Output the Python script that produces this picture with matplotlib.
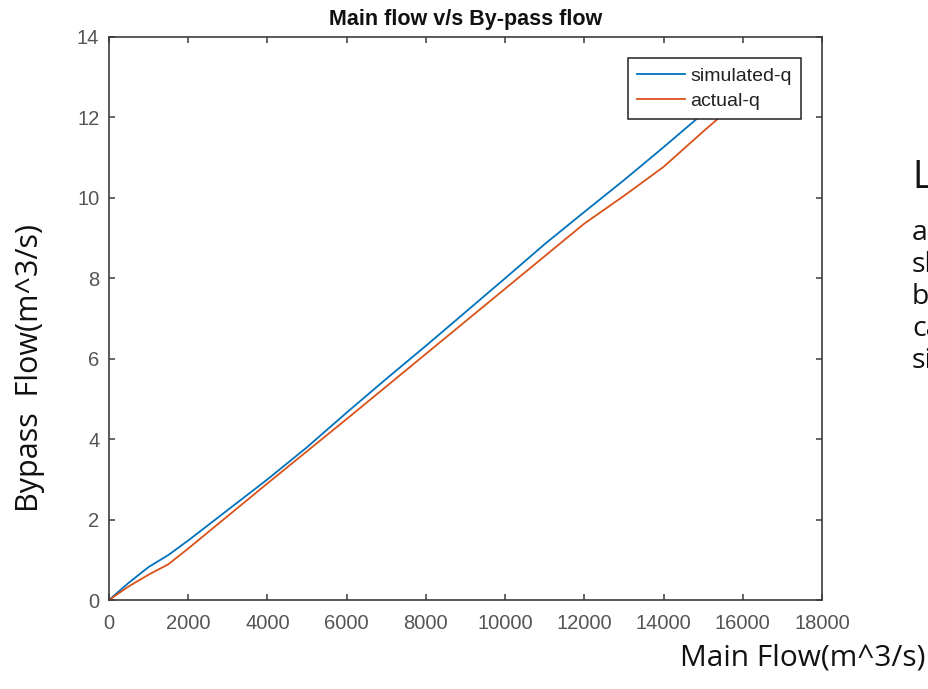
import matplotlib
matplotlib.use("Agg")
import matplotlib.pyplot as plt

# ---- data ----
main_flow = [0, 500, 1000, 1500, 2000, 3000, 4000, 5000, 6000, 7000, 8000,
             9000, 10000, 11000, 12000, 13000, 14000, 15000, 16000]
simulated_q = [0, 0.43, 0.82, 1.12, 1.48, 2.24, 3.00, 3.80, 4.66, 5.50, 6.32,
               7.16, 8.00, 8.85, 9.65, 10.44, 11.26, 12.1, 12.9]
actual_q = [0, 0.34, 0.63, 0.89, 1.28, 2.09, 2.90, 3.70, 4.50, 5.31, 6.12,
            6.93, 7.74, 8.55, 9.36, 10.05, 10.77, 11.65, 12.5]
series_labels = ["simulated-q", "actual-q"]
x_ticks = [0, 2000, 4000, 6000, 8000, 10000, 12000, 14000, 16000, 18000]
y_ticks = [0, 2, 4, 6, 8, 10, 12, 14]
title = "Main flow v/s By-pass flow"
xlabel = "Main Flow(m^3/s)"
ylabel = "Bypass  Flow(m^3/s)"
side_big = "L"
side_lines = ["a", "sl", "b", "ca", "si"]

W, H = 929, 689
fig = plt.figure(figsize=(W / 100, H / 100), dpi=100)
fig.patch.set_facecolor("white")

# axes in pixel box: left 109, right 822, top 37, bottom 600
l, r, t, b = 109, 822, 37, 600
ax = fig.add_axes([l / W, 1 - b / H, (r - l) / W, (b - t) / H])

blue = (0.0, 0.447, 0.741)
orange = (0.85, 0.325, 0.098)
ax.plot(main_flow, simulated_q, color=blue, lw=1.3, label=series_labels[0])
ax.plot(main_flow, actual_q, color=orange, lw=1.3, label=series_labels[1])

ax.set_xlim(0, 18000)
ax.set_ylim(0, 14)
ax.set_xticks(x_ticks)
ax.set_yticks(y_ticks)
ax.set_xticklabels([str(v) for v in x_ticks])
ax.set_yticklabels([str(v) for v in y_ticks])

spine_col = "#3c3c3c"
for s in ax.spines.values():
    s.set_color(spine_col)
    s.set_linewidth(1.2)
ax.tick_params(axis="both", direction="in", length=4.5, width=1.1,
               color=spine_col, labelcolor="#555555", top=True, right=True)
ax.tick_params(axis="x", pad=10)
ax.tick_params(axis="y", pad=7)
for lab in ax.get_xticklabels() + ax.get_yticklabels():
    lab.set_fontfamily("Liberation Sans")
    lab.set_fontsize(14.5)

ax.set_title(title, fontsize=15.5, fontweight="bold", family="Liberation Sans",
             color="#111111", pad=9)

leg = ax.legend(loc="upper right", prop={"family": "Liberation Sans", "size": 14},
                frameon=True, fancybox=False, framealpha=1, edgecolor="#222222",
                handlelength=2.45, handletextpad=0.3, borderpad=0.45,
                labelspacing=0.4, borderaxespad=1.1)
leg.get_frame().set_linewidth(1.1)
for txt in leg.get_texts():
    txt.set_color("#222222")

# slide text (Calibri-like)
big_font = "Open Sans"
fig.text(926 / W, 1 - 666 / H, xlabel, ha="right", va="baseline",
         fontsize=21.5, family=big_font, color="#111111")
fig.text(38 / W, 1 - 368 / H, ylabel, ha="center", va="baseline",
         rotation=90, rotation_mode="anchor",
         fontsize=22, family=big_font, color="#111111")
fig.text(912 / W, 1 - 188 / H, side_big, ha="left", va="baseline",
         fontsize=27, family=big_font, color="#111111")
for i, s in enumerate(side_lines):
    fig.text(912 / W, 1 - (240 + 32 * i) / H, s, ha="left", va="baseline",
             fontsize=20.5, family=big_font, color="#111111")

fig.savefig("out.png", dpi=100, facecolor="white")
